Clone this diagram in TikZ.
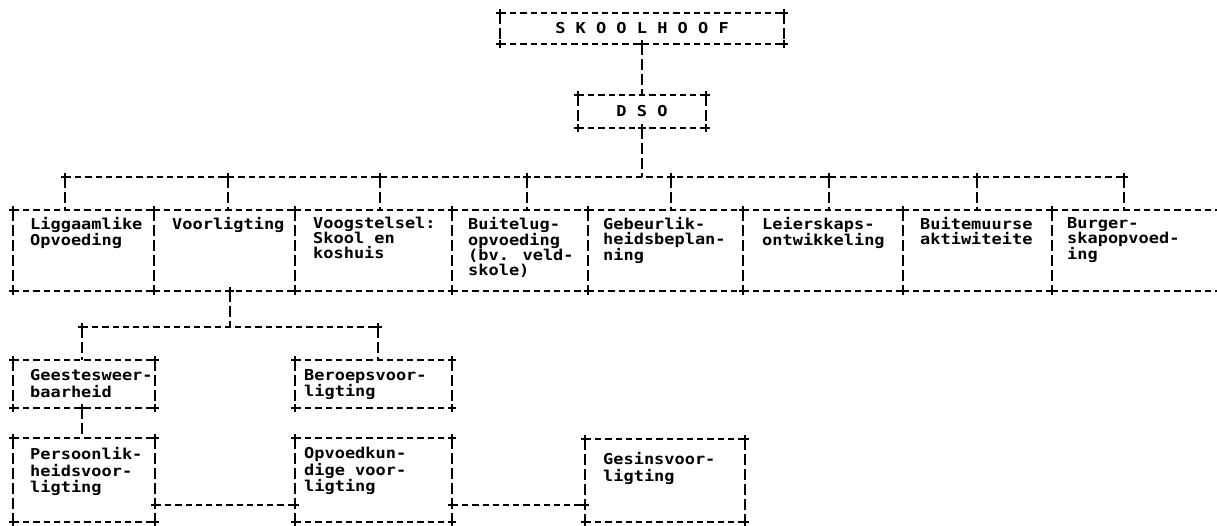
\documentclass[tikz,border=0pt]{standalone}
\usepackage{fontspec}
\newfontfamily\twfont{DejaVu Sans Mono}[FakeStretch=1.13]
\usetikzlibrary{calc}
\begin{document}
\begin{tikzpicture}[x=1pt,y=-1pt,
 hl/.style={line width=2pt,dash pattern=on 6.2pt off 4pt},
 vl/.style={line width=2pt,dash pattern=on 11pt off 4pt},
 box/.style={draw=none,inner sep=0pt,outer sep=0pt,anchor=north west},
 cbox/.style={draw=none,inner sep=0pt,outer sep=0pt,font=\twfont\bfseries\fontsize{15}{15}\selectfont},
 txt/.style={font=\twfont\bfseries\fontsize{15}{15}\selectfont,inner sep=0pt,anchor=north west,align=left},
 txtb/.style={txt,font=\twfont\bfseries\fontsize{15}{16.7}\selectfont},
 pics/crs/.style={code={\draw[line width=2pt] (-3.8,0) -- (3.8,0) (0,-3.8) -- (0,3.8);}}
]
\newcommand{\frm}[1]{%
 \draw[hl] (#1.north west) -- (#1.north east) (#1.south west) -- (#1.south east);
 \draw[vl] (#1.north west) -- (#1.south west) (#1.north east) -- (#1.south east);
 \pic at (#1.north west) {crs}; \pic at (#1.north east) {crs};
 \pic at (#1.south west) {crs}; \pic at (#1.south east) {crs};}
\useasboundingbox (0,0) rectangle (1217,526);

% top
\node[cbox,minimum width=284pt,minimum height=31pt] (sk) at (642,28.5) {S K O O L H O O F};
\node[cbox,minimum width=128pt,minimum height=33pt] (dso) at (642,111.5) {D S O};
\frm{sk}\frm{dso}
\draw[vl] (sk.south) -- (dso.north);
\pic at (sk.south) {crs};
\pic at (dso.south) {crs};

% bus
\foreach \n/\x in {1/65,2/228,3/380,4/527,5/671,6/829,7/977,8/1124}{\coordinate (j\n) at (\x,177);}
\draw[hl] (j1) -- (j8);
\draw[vl] (dso.south) -- (dso.south |- j1);

% main row
\node[box,minimum width=141pt,minimum height=81pt] (b1) at (13,210) {};
\node[box,minimum width=141pt,minimum height=81pt] (b2) at (154,210) {};
\node[box,minimum width=157pt,minimum height=81pt] (b3) at (295,210) {};
\node[box,minimum width=136pt,minimum height=81pt] (b4) at (452,210) {};
\node[box,minimum width=155pt,minimum height=81pt] (b5) at (588,210) {};
\node[box,minimum width=160pt,minimum height=81pt] (b6) at (743,210) {};
\node[box,minimum width=149pt,minimum height=81pt] (b7) at (903,210) {};
\node[box,minimum width=190pt,minimum height=81pt] (b8) at (1052,210) {};
\foreach \b in {b1,b2,b3,b4,b5,b6,b7,b8}{\frm{\b}}
\foreach \n in {1,...,8}{\draw[vl] (j\n) -- (j\n |- b1.north); \pic at (j\n) {crs};}

\node[txt] (t1) at (30,217) {Liggaamlike\\Opvoeding};
\node[txt] (t2) at (172,217) {Voorligting};
\node[txt] (t3) at (313,217) {Voogstelsel:\\Skool en\\koshuis};
\node[txt] (t4) at (468,217) {Buitelug-\\opvoeding\\(bv. veld-\\skole)};
\node[txt] (t5) at (603,217) {Gebeurlik-\\heidsbeplan-\\ning};
\node[txt] (t6) at (762,217) {Leierskaps-\\ontwikkeling};
\node[txt] (t7) at (920,217) {Buitemuurse\\aktiwiteite};
\node[txt] (t8) at (1067,217) {Burger-\\skapopvoed-\\ing};

% second bus
\coordinate (v0) at (230,291);
\coordinate (k1) at (82,327);
\coordinate (k2) at (378,327);
\pic at (v0) {crs};
\draw[vl] (v0) -- (v0 |- k1);
\draw[hl] (k1) -- (k2);
\pic at (k1) {crs}; \pic at (k2) {crs};

\node[box,minimum width=142pt,minimum height=48pt] (gw) at (13,360) {};
\node[box,minimum width=157pt,minimum height=48pt] (bv) at (295,360) {};
\node[box,minimum width=142pt,minimum height=84pt] (pv) at (13,438) {};
\node[box,minimum width=157pt,minimum height=84pt] (ov) at (295,438) {};
\node[box,minimum width=160pt,minimum height=83pt] (gv) at (585,439) {};
\foreach \b in {gw,bv,pv,ov,gv}{\frm{\b}}
\draw[vl] (k1) -- (k1 |- gw.north);
\draw[vl] (k2) -- (k2 |- bv.north);
\coordinate (g0) at (82,408);
\pic at (g0) {crs};
\draw[vl] (g0) -- (g0 |- pv.north);

\coordinate (c1) at ($(pv.south east)+(0,-17)$);
\coordinate (c2) at ($(ov.south west)+(0,-17)$);
\coordinate (c3) at ($(ov.south east)+(0,-17)$);
\coordinate (c4) at ($(gv.south west)+(0,-17)$);
\draw[hl] (c1) -- (c2);
\draw[hl] (c3) -- (c4);
\foreach \c in {c1,c2,c3,c4}{\pic at (\c) {crs};}

\node[txtb] (tg) at (30,369) {Geestesweer-\\baarheid};
\node[txtb] (tb) at (304,369) {Beroepsvoor-\\ligting};
\node[txtb] (tp) at (30,447) {Persoonlik-\\heidsvoor-\\ligting};
\node[txtb] (to) at (304,447) {Opvoedkun-\\dige voor-\\ligting};
\node[txtb] (tv) at (603,452) {Gesinsvoor-\\ligting};
\end{tikzpicture}
\end{document}
